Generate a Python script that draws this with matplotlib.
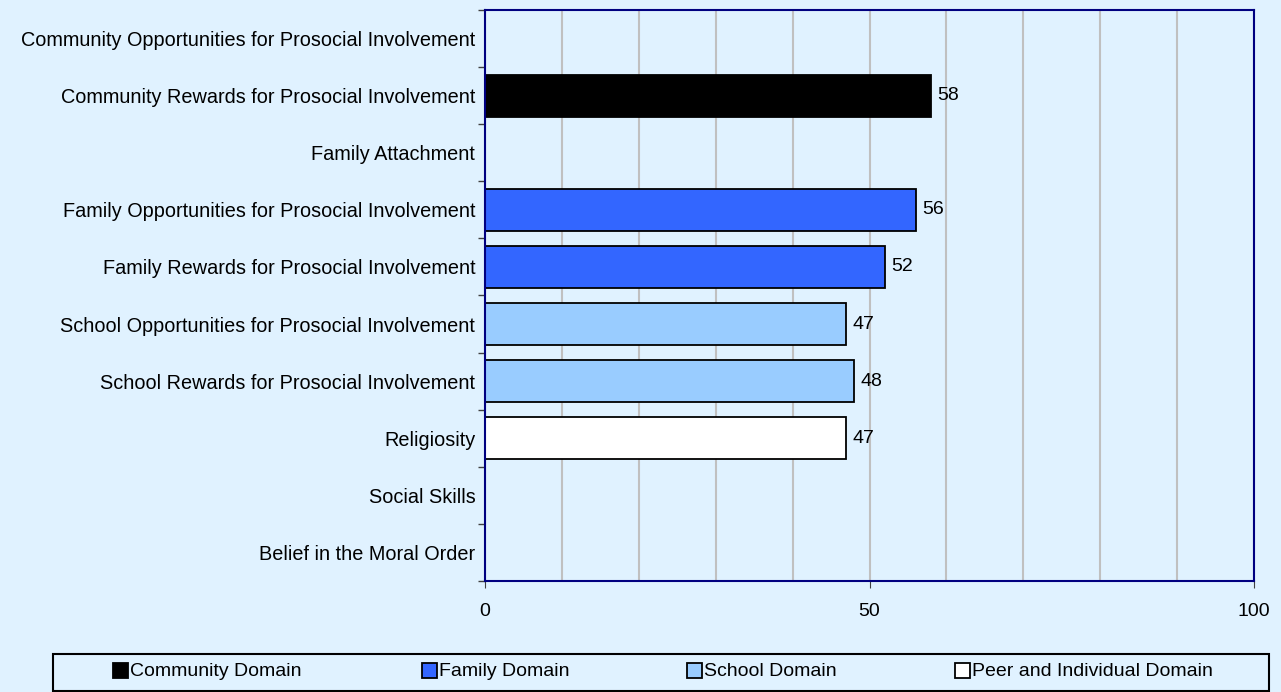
import matplotlib.pyplot as plt
import matplotlib.patches as mpatches
from matplotlib.ticker import MultipleLocator, FixedLocator
import numpy as np

plt.rcParams['font.family'] = ['Liberation Sans', 'DejaVu Sans']

categories = [
    'Community Opportunities for Prosocial Involvement',
    'Community Rewards for Prosocial Involvement',
    'Family Attachment',
    'Family Opportunities for Prosocial Involvement',
    'Family Rewards for Prosocial Involvement',
    'School Opportunities for Prosocial Involvement',
    'School Rewards for Prosocial Involvement',
    'Religiosity',
    'Social Skills',
    'Belief in the Moral Order',
]
values = [np.nan, 58, np.nan, 56, 52, 47, 48, 47, np.nan, np.nan]
domains = ['Community', 'Community', 'Family', 'Family', 'Family',
           'School', 'School', 'Peer', 'Peer', 'Peer']

legend_labels = ['Community Domain', 'Family Domain', 'School Domain', 'Peer and Individual Domain']
colors = {'Community': '#000000', 'Family': '#3366FF', 'School': '#99CCFF', 'Peer': '#FFFFFF'}
bg = '#E0F2FF'
fs = 14.3

fig = plt.figure(figsize=(12.81, 6.92), dpi=100, facecolor=bg)
ax = fig.add_axes([485/1281, 1 - 581/692, (1254 - 485)/1281, (581 - 10)/692])
ax.set_facecolor(bg)

y = np.arange(len(categories))
bar_colors = [colors[d] for d in domains]
ax.barh(y, values, height=0.74, color=bar_colors, edgecolor='black', linewidth=1.3, zorder=3)
for yi, v in zip(y, values):
    if not np.isnan(v):
        ax.annotate(f'{v:g}', (v, yi), xytext=(4.5, 0), textcoords='offset points',
                    va='center', ha='left', fontsize=fs - 0.3)

ax.set_ylim(len(categories) - 0.5, -0.5)
ax.set_xlim(0, 100)
ax.set_yticks(y)
ax.set_yticklabels(categories, fontsize=fs)
ax.tick_params(axis='y', which='major', length=0, pad=7)
ax.yaxis.set_minor_locator(FixedLocator(np.arange(-0.5, len(categories), 1)))
ax.tick_params(axis='y', which='minor', length=5, color='#404040', width=1)

ax.set_xticks([0, 50, 100])
ax.xaxis.set_minor_locator(MultipleLocator(10))
ax.tick_params(axis='x', which='major', length=5, color='#404040', labelsize=fs - 0.3, pad=11)
ax.tick_params(axis='x', which='minor', length=0)
ax.grid(axis='x', which='both', color='#C0C0C0', linewidth=1.5, zorder=0)

for s in ax.spines.values():
    s.set_color('#000080')
    s.set_linewidth(1.5)
    s.set_zorder(4)

# legend box
fig.patches.append(mpatches.Rectangle((53/1281, 1 - 691/692), (1269 - 53)/1281, (691 - 654)/692,
                                      transform=fig.transFigure, facecolor=bg, edgecolor='black', linewidth=1.5))
marker_x = [113, 422, 687, 955]
leg_colors = [colors['Community'], colors['Family'], colors['School'], colors['Peer']]
ym = 670
sz = 15
for mx, c, lab in zip(marker_x, leg_colors, legend_labels):
    fig.patches.append(mpatches.Rectangle((mx/1281, 1 - (ym + sz/2)/692), sz/1281, sz/692,
                                          transform=fig.transFigure, facecolor=c, edgecolor='black', linewidth=1.3))
    fig.text((mx + sz + 2)/1281, 1 - (ym + 1)/692, lab, va='center', ha='left', fontsize=fs - 0.3)

fig.savefig('out.png', dpi=100, facecolor=bg)
